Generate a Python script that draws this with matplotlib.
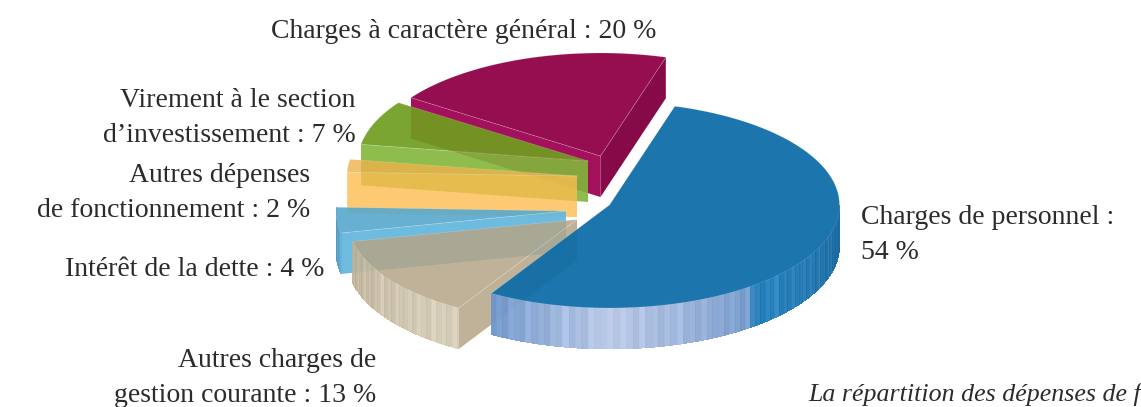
import numpy as np
import matplotlib
matplotlib.use("Agg")
import matplotlib.pyplot as plt

# values, clockwise from the big slice
labels = ["Charges de personnel :\n54 %", "Autres charges de\ngestion courante : 13 %",
          "Intérêt de la dette : 4 %", "Autres dépenses\nde fonctionnement : 2 %",
          "Virement à le section\nd’investissement : 7 %", "Charges à caractère général : 20 %"]
values = [54, 13, 4, 2, 7, 20]
caption = "La répartition des dépenses de f"

# look of the pie, in pixels
START = 73.5
RX, RY, DEPTH = 230, 103, 41
centers = [(609.5, 205), (577, 219.5), (566, 211), (577, 176), (588, 161), (600.5, 156)]
top_colors = ["#0b6ba7", "#b4a587", "#58a8cd", "#eeb24b", "#709e20", "#940e50"]
top_alpha = [0.93, 0.85, 0.90, 0.80, 0.92, 1.0]
wall_colors = ["#0b6ba7", "#b4a587", "#62b6de", "#fdbc50", "#82b63a", "#a3105c"]
wall_alpha = [0.93, 0.85, 0.92, 0.80, 0.90, 1.0]

STRIPES = [0, 5, -3, 8, 2, -5, 11, -2, 3, -6, 6, 0, 14, -3, 3, -4, 9, 1]

plt.rcParams["font.family"] = ["Liberation Serif", "DejaVu Serif"]
fig = plt.figure(figsize=(11.41, 4.07), dpi=100)
ax = fig.add_axes([0, 0, 1, 1])
ax.set_xlim(0, 1141)
ax.set_ylim(407, 0)
ax.axis("off")


def rim(c, a):
    a = np.radians(a)
    return c[0] + RX * np.cos(a), c[1] - RY * np.sin(a)


def draw_top(c, a0, a1, color, alpha, z):
    a = np.linspace(a0, a1, 120)
    x, y = rim(c, a)
    ax.fill(np.r_[c[0], x], np.r_[c[1], y], color=color, alpha=alpha, lw=0, zorder=z)
    # pale line round the rim
    ax.plot(np.r_[c[0], x, c[0]], np.r_[c[1], y, c[1]], color="white", lw=0.5, alpha=0.2, zorder=z)


def draw_radial(c, a, color, alpha, z):
    x, y = rim(c, a)
    ax.fill([c[0], x, x, c[0]], [c[1], y, y + DEPTH, c[1] + DEPTH], color=color, alpha=alpha, lw=0, zorder=z)
    ax.plot([c[0], x], [c[1], y], color="white", lw=0.5, alpha=0.25, zorder=z)


def draw_rim_wall(c, a0, a1, stops, alpha, z):
    # stops: (angle, rgb) pairs, striped facets between them
    angs = [s[0] for s in stops]
    rgb = np.array([s[1] for s in stops], dtype=float)
    edges = np.arange(a0, a1, 1.6)
    edges = np.r_[edges, a1]
    for i in range(len(edges) - 1):
        a = np.linspace(edges[i], edges[i + 1], 3)
        x, y = rim(c, a)
        mid = (edges[i] + edges[i + 1]) / 2
        col = [np.interp(mid, angs, rgb[:, k]) for k in range(3)]
        col = np.clip(np.array(col) + STRIPES[i % len(STRIPES)], 0, 255) / 255
        ax.fill(np.r_[x, x[::-1]], np.r_[y, y[::-1] + DEPTH], color=col, alpha=alpha,
                lw=0, antialiased=False, zorder=z)


# slice angles from the values
bounds = START - np.cumsum([0] + values) * 3.6
lo = bounds[1:]
hi = bounds[:-1]

# purple, at the back
draw_radial(centers[5], lo[5], "#870a48", 1.0, 1)
draw_radial(centers[5], hi[5], wall_colors[5], 1.0, 1)
draw_top(centers[5], lo[5], hi[5], top_colors[5], top_alpha[5], 2)

# green
draw_radial(centers[4], hi[4], wall_colors[4], wall_alpha[4], 3)
draw_top(centers[4], lo[4], hi[4], top_colors[4], top_alpha[4], 4)

# orange
draw_radial(centers[3], hi[3], wall_colors[3], wall_alpha[3], 5)
draw_top(centers[3], lo[3], hi[3], top_colors[3], top_alpha[3], 6)

# small blue
draw_rim_wall(centers[2], lo[2], hi[2], [(lo[2], (70, 140, 180)), (hi[2], (90, 165, 205))], 0.9, 7)
draw_radial(centers[2], hi[2], wall_colors[2], wall_alpha[2], 7)
draw_top(centers[2], lo[2], hi[2], top_colors[2], top_alpha[2], 8)

# tan
draw_rim_wall(centers[1], lo[1], hi[1], [(lo[1], (186, 174, 148)), (hi[1], (212, 203, 180))], 0.88, 9)
draw_radial(centers[1], hi[1], wall_colors[1], wall_alpha[1], 9)
draw_top(centers[1], lo[1], hi[1], top_colors[1], top_alpha[1], 10)

# big blue goes on top of everything
wall_stops = [(lo[0], (108, 148, 202)), (-90, (183, 198, 228)), (-70, (150, 175, 215)),
              (-52, (110, 150, 200)), (-51, (30, 125, 187)), (-20, (28, 112, 168)), (0, (24, 100, 155))]
draw_rim_wall(centers[0], lo[0], 0, wall_stops, 0.95, 11)
draw_top(centers[0], lo[0], hi[0], top_colors[0], top_alpha[0], 12)

# labels
txt = dict(fontsize=20, color="#2b2b2b", linespacing=1.55, zorder=20)
ax.text(861, 235, labels[0], ha="left", va="center", **txt)
ax.text(376, 378, labels[1], ha="right", va="center", **txt)
ax.text(324, 269, labels[2], ha="right", va="center", **txt)
ax.text(310, 193, labels[3], ha="right", va="center", **txt)
ax.text(356, 118, labels[4], ha="right", va="center", **txt)
ax.text(464, 32, labels[5], ha="center", va="center", **txt)
txt["fontsize"] = 18.6
ax.text(808, 394, caption, ha="left", va="center", style="italic", **txt)

fig.savefig("out.png", dpi=100)
